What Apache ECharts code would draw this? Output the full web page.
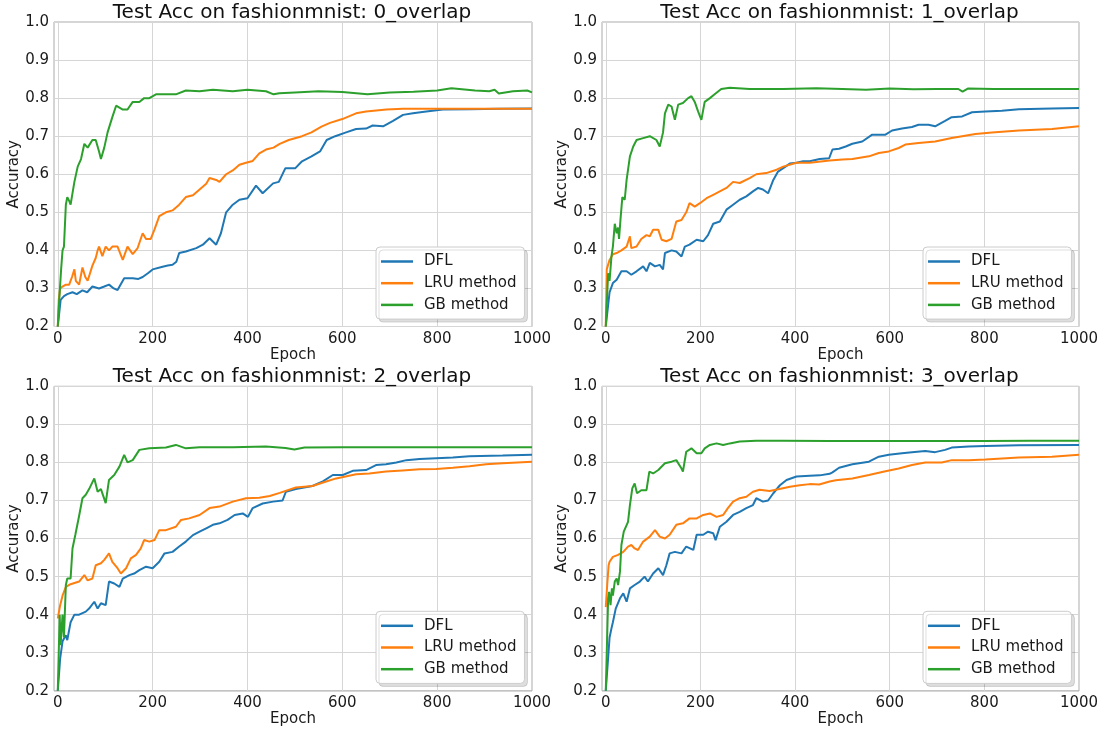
<!DOCTYPE html>
<html>
<head>
<meta charset="utf-8">
<script src="https://cdn.jsdelivr.net/npm/echarts@6/dist/echarts.min.js"></script>
<style>html,body{margin:0;padding:0;background:#fff;}#c{width:1104px;height:730px;}</style>
</head>
<body>
<div id="c"></div>
<script>
// ---- data (epoch, accuracy) ----
const seriesNames = ['DFL', 'LRU method', 'GB method'];
const panelTitles = ['Test Acc on fashionmnist: 0_overlap', 'Test Acc on fashionmnist: 1_overlap',
                     'Test Acc on fashionmnist: 2_overlap', 'Test Acc on fashionmnist: 3_overlap'];
const xTicks = [0, 200, 400, 600, 800, 1000];

const dfl0 = [[0,0.2],[1,0.2],[6,0.27],[13,0.28],[20,0.285],[31,0.29],[40,0.285],[52,0.295],[62,0.29],[73,0.305],[87,0.30],[98,0.305],[108,0.31],[118,0.30],[126,0.296],[140,0.327],[158,0.327],[170,0.325],[179,0.33],[190,0.34],[200,0.35],[221,0.357],[232,0.36],[242,0.362],[250,0.37],[256,0.393],[270,0.397],[292,0.406],[306,0.415],[320,0.432],[334,0.415],[344,0.445],[355,0.50],[369,0.52],[383,0.533],[400,0.537],[418,0.57],[432,0.55],[454,0.576],[466,0.58],[480,0.616],[501,0.616],[515,0.634],[535,0.647],[553,0.66],[567,0.69],[585,0.70],[608,0.71],[629,0.719],[650,0.72],[664,0.728],[686,0.726],[707,0.74],[728,0.756],[749,0.76],[777,0.765],[812,0.77],[869,0.771],[930,0.772],[1000,0.773]];
const lru0 = [[0,0.2],[2,0.27],[5,0.30],[10,0.305],[17,0.31],[24,0.31],[30,0.33],[35,0.35],[38,0.32],[45,0.31],[52,0.355],[58,0.33],[63,0.32],[73,0.36],[80,0.38],[84,0.40],[87,0.41],[94,0.385],[101,0.41],[108,0.40],[115,0.41],[126,0.41],[137,0.375],[147,0.41],[158,0.39],[168,0.405],[179,0.445],[186,0.43],[196,0.43],[204,0.455],[214,0.49],[228,0.50],[242,0.505],[256,0.52],[270,0.54],[285,0.545],[299,0.56],[313,0.575],[320,0.59],[334,0.585],[341,0.58],[355,0.60],[369,0.61],[383,0.625],[397,0.63],[411,0.635],[425,0.655],[439,0.665],[455,0.67],[468,0.68],[487,0.69],[515,0.70],[535,0.71],[556,0.725],[574,0.735],[600,0.745],[629,0.76],[650,0.765],[693,0.77],[728,0.772],[800,0.772],[900,0.772],[1000,0.772]];
const gb0 = [[0,0.2],[3,0.27],[7,0.35],[10,0.40],[13,0.41],[17,0.52],[20,0.54],[24,0.53],[27,0.52],[35,0.58],[42,0.62],[49,0.64],[56,0.68],[63,0.67],[73,0.69],[80,0.69],[87,0.66],[91,0.64],[98,0.67],[105,0.71],[115,0.75],[123,0.78],[137,0.77],[147,0.77],[158,0.79],[172,0.79],[182,0.80],[193,0.80],[207,0.81],[228,0.81],[249,0.81],[270,0.82],[299,0.818],[327,0.822],[369,0.818],[400,0.822],[439,0.818],[455,0.81],[467,0.813],[500,0.815],[550,0.818],[600,0.816],[653,0.81],[700,0.815],[750,0.817],[800,0.82],[830,0.826],[880,0.82],[910,0.818],[921,0.822],[930,0.812],[960,0.818],[990,0.82],[1000,0.815]];

const dfl1 = [[0,0.2],[1,0.2],[8,0.29],[15,0.314],[23,0.323],[33,0.345],[44,0.345],[54,0.336],[65,0.345],[79,0.358],[86,0.345],[93,0.367],[104,0.358],[114,0.362],[121,0.35],[125,0.393],[139,0.40],[149,0.397],[160,0.384],[167,0.41],[177,0.415],[192,0.428],[206,0.424],[216,0.44],[227,0.47],[241,0.476],[255,0.507],[269,0.52],[283,0.533],[297,0.542],[311,0.555],[322,0.564],[332,0.56],[343,0.55],[354,0.585],[364,0.607],[375,0.616],[389,0.628],[403,0.63],[417,0.634],[431,0.634],[452,0.64],[472,0.642],[479,0.665],[493,0.667],[507,0.673],[521,0.68],[542,0.686],[563,0.704],[591,0.704],[605,0.715],[626,0.72],[647,0.724],[661,0.73],[682,0.73],[696,0.726],[717,0.74],[731,0.75],[753,0.752],[774,0.763],[802,0.765],[837,0.767],[873,0.771],[943,0.773],[1000,0.774]];
const lru1 = [[0,0.2],[2,0.35],[8,0.375],[15,0.39],[23,0.393],[33,0.40],[44,0.41],[51,0.437],[54,0.406],[65,0.41],[75,0.43],[86,0.44],[93,0.437],[100,0.454],[111,0.454],[118,0.428],[128,0.424],[139,0.43],[149,0.476],[160,0.48],[170,0.50],[177,0.524],[188,0.515],[199,0.524],[213,0.537],[227,0.546],[241,0.555],[255,0.564],[269,0.58],[283,0.577],[304,0.59],[318,0.60],[339,0.603],[361,0.612],[375,0.62],[403,0.63],[431,0.63],[473,0.636],[500,0.639],[521,0.64],[556,0.647],[577,0.656],[598,0.66],[619,0.669],[633,0.678],[661,0.682],[696,0.686],[731,0.695],[753,0.70],[781,0.706],[816,0.71],[873,0.715],[943,0.719],[1000,0.726]];
const gb1 = [[0,0.2],[5,0.34],[8,0.32],[12,0.384],[15,0.41],[19,0.47],[23,0.445],[26,0.46],[28,0.43],[31,0.48],[35,0.54],[40,0.533],[44,0.585],[51,0.647],[58,0.673],[65,0.69],[79,0.695],[93,0.70],[107,0.69],[114,0.673],[121,0.71],[125,0.76],[132,0.783],[139,0.778],[146,0.743],[153,0.783],[163,0.787],[174,0.80],[181,0.805],[188,0.79],[195,0.765],[202,0.743],[209,0.79],[220,0.80],[230,0.81],[244,0.824],[262,0.827],[304,0.824],[375,0.824],[445,0.826],[500,0.824],[550,0.822],[600,0.825],[650,0.823],[700,0.824],[745,0.824],[754,0.817],[765,0.825],[820,0.824],[900,0.824],[1000,0.824]];

const dfl2 = [[0,0.2],[5,0.285],[10,0.33],[17,0.346],[20,0.333],[27,0.38],[35,0.40],[45,0.40],[59,0.408],[66,0.416],[77,0.434],[84,0.416],[91,0.43],[101,0.425],[108,0.487],[119,0.482],[130,0.473],[137,0.495],[151,0.504],[161,0.508],[172,0.517],[186,0.526],[200,0.522],[214,0.539],[225,0.561],[242,0.565],[256,0.579],[270,0.592],[285,0.609],[299,0.618],[313,0.627],[327,0.636],[341,0.64],[358,0.649],[373,0.662],[390,0.666],[401,0.657],[411,0.68],[432,0.692],[454,0.697],[474,0.70],[481,0.723],[502,0.73],[537,0.738],[559,0.75],[580,0.767],[601,0.767],[622,0.778],[650,0.78],[671,0.793],[692,0.795],[714,0.80],[735,0.806],[763,0.809],[798,0.811],[833,0.813],[868,0.816],[938,0.818],[1000,0.82]];
const lru2 = [[0,0.39],[5,0.425],[10,0.45],[17,0.473],[27,0.48],[45,0.487],[56,0.504],[63,0.49],[73,0.495],[80,0.53],[91,0.535],[98,0.544],[108,0.561],[115,0.539],[126,0.522],[133,0.508],[144,0.522],[154,0.548],[165,0.557],[175,0.574],[182,0.596],[193,0.592],[204,0.596],[214,0.622],[228,0.622],[249,0.631],[260,0.649],[277,0.653],[299,0.662],[320,0.68],[341,0.684],[369,0.697],[397,0.706],[425,0.707],[447,0.712],[468,0.72],[502,0.734],[537,0.738],[566,0.75],[587,0.758],[629,0.769],[657,0.771],[692,0.776],[727,0.779],[763,0.782],[798,0.783],[833,0.786],[868,0.79],[903,0.795],[938,0.798],[1000,0.802]];
const gb2 = [[0,0.2],[4,0.40],[6,0.32],[10,0.40],[13,0.34],[17,0.478],[20,0.495],[27,0.495],[31,0.574],[37,0.61],[45,0.66],[52,0.706],[59,0.715],[66,0.73],[77,0.758],[84,0.723],[91,0.73],[101,0.693],[108,0.754],[119,0.767],[130,0.789],[140,0.82],[147,0.80],[158,0.806],[172,0.833],[193,0.837],[228,0.839],[249,0.846],[270,0.837],[299,0.84],[369,0.84],[439,0.842],[480,0.838],[499,0.834],[520,0.839],[600,0.84],[700,0.84],[800,0.84],[900,0.84],[1000,0.84]];

const dfl3 = [[0,0.2],[5,0.288],[8,0.34],[12,0.364],[15,0.38],[21,0.416],[30,0.443],[37,0.456],[44,0.434],[51,0.469],[61,0.478],[72,0.487],[82,0.50],[89,0.487],[100,0.508],[111,0.522],[121,0.504],[128,0.53],[135,0.561],[146,0.565],[160,0.561],[170,0.579],[185,0.57],[192,0.61],[206,0.61],[216,0.618],[227,0.614],[232,0.596],[241,0.631],[255,0.644],[269,0.662],[283,0.67],[297,0.68],[311,0.688],[318,0.706],[332,0.697],[343,0.70],[354,0.719],[368,0.74],[382,0.754],[403,0.763],[431,0.765],[452,0.766],[473,0.77],[479,0.774],[493,0.786],[521,0.795],[556,0.802],[577,0.815],[598,0.82],[626,0.824],[647,0.827],[675,0.83],[696,0.827],[717,0.833],[731,0.839],[767,0.842],[802,0.843],[873,0.845],[1000,0.846]];
const lru3 = [[0,0.42],[3,0.478],[6,0.53],[8,0.539],[15,0.552],[26,0.557],[37,0.565],[47,0.579],[54,0.583],[61,0.574],[68,0.57],[79,0.592],[93,0.605],[104,0.622],[114,0.605],[125,0.60],[135,0.61],[149,0.636],[163,0.64],[177,0.653],[192,0.653],[206,0.662],[220,0.666],[234,0.657],[248,0.662],[258,0.68],[269,0.697],[283,0.706],[297,0.71],[311,0.723],[325,0.728],[346,0.725],[367,0.73],[389,0.736],[410,0.74],[431,0.743],[451,0.742],[473,0.75],[486,0.753],[521,0.758],[556,0.767],[591,0.777],[619,0.784],[647,0.793],[675,0.80],[710,0.80],[731,0.806],[767,0.806],[802,0.808],[873,0.813],[943,0.815],[1000,0.82]];
const gb3 = [[0,0.2],[5,0.443],[7,0.46],[10,0.425],[13,0.469],[15,0.45],[19,0.487],[23,0.495],[26,0.478],[30,0.513],[33,0.583],[38,0.618],[47,0.644],[51,0.688],[56,0.732],[61,0.745],[66,0.719],[75,0.727],[86,0.727],[92,0.776],[100,0.771],[111,0.78],[125,0.798],[139,0.802],[149,0.806],[160,0.784],[163,0.776],[170,0.828],[181,0.837],[192,0.824],[202,0.824],[209,0.837],[220,0.846],[234,0.85],[248,0.846],[262,0.85],[283,0.855],[318,0.857],[375,0.857],[473,0.856],[600,0.856],[700,0.856],[800,0.856],[900,0.857],[1000,0.857]];

const panelData = [[dfl0, lru0, gb0], [dfl1, lru1, gb1], [dfl2, lru2, gb2], [dfl3, lru3, gb3]];
const colors = ['#1f77b4', '#ff7f0e', '#2ca02c'];

// ---- layout ----
const FONT = 'DejaVu Sans';
const TXT = '#1a1a1a';
const grids = [
  {left: 54, top: 22, width: 478, height: 304.5},
  {left: 602, top: 22, width: 477, height: 304.5},
  {left: 54, top: 386.3, width: 478, height: 304.5},
  {left: 602, top: 386.3, width: 477, height: 304.5}
];

const option = {
  animation: false,
  backgroundColor: '#fff',
  textStyle: {fontFamily: FONT},
  title: grids.map((g, i) => ({
    text: panelTitles[i],
    left: g.left + g.width / 2 - 1,
    top: g.top - 19.5,
    textAlign: 'center',
    padding: 0,
    textStyle: {fontFamily: FONT, fontSize: 20, fontWeight: 'normal', color: '#111'}
  })),
  grid: grids.map(g => Object.assign({show: true, borderColor: '#aaaaaa', borderWidth: 1, backgroundColor: 'transparent'}, g)),
  legend: grids.map((g, i) => ({
    data: seriesNames,
    orient: 'vertical',
    left: g.left + g.width - 156,
    top: g.top + g.height - 79.5,
    icon: 'rect',
    itemWidth: 32,
    itemHeight: 2.5,
    itemGap: 5.7,
    padding: [6.5, 8, 6.2, 5],
    textStyle: {fontFamily: FONT, fontSize: 15, color: TXT, lineHeight: 16, padding: [0, 0, 0, 6]},
    backgroundColor: '#ffffff',
    borderColor: '#cccccc',
    borderWidth: 1,
    borderRadius: 4,
    shadowColor: 'rgba(0,0,0,0.13)',
    shadowOffsetX: 3,
    shadowOffsetY: 3,
    shadowBlur: 0
  })),
  xAxis: grids.map((g, i) => ({
    type: 'value',
    gridIndex: i,
    min: -8,
    max: 1000,
    name: 'Epoch',
    nameLocation: 'middle',
    nameGap: 18,
    nameTextStyle: {fontFamily: FONT, fontSize: 15, color: TXT},
    axisLine: {show: false},
    axisTick: {show: false, customValues: xTicks},
    axisLabel: {customValues: xTicks, fontFamily: FONT, fontSize: 15, color: TXT, margin: 5, formatter: v => String(v)},
    splitLine: {show: true, lineStyle: {color: '#d6d6d6', width: 1}}
  })),
  yAxis: grids.map((g, i) => ({
    type: 'value',
    gridIndex: i,
    min: 0.2,
    max: 1.0,
    interval: 0.1,
    name: 'Accuracy',
    nameLocation: 'middle',
    nameGap: 31,
    nameTextStyle: {fontFamily: FONT, fontSize: 15, color: TXT},
    axisLine: {show: false},
    axisTick: {show: false},
    axisLabel: {fontFamily: FONT, fontSize: 15, color: TXT, margin: 5, formatter: v => v.toFixed(1)},
    splitLine: {show: true, lineStyle: {color: '#d6d6d6', width: 1}}
  })),
  series: []
};

panelData.forEach((panel, p) => {
  panel.forEach((data, s) => {
    option.series.push({
      type: 'line',
      name: seriesNames[s],
      xAxisIndex: p,
      yAxisIndex: p,
      data: data,
      showSymbol: false,
      symbol: 'none',
      color: colors[s],
      lineStyle: {color: colors[s], width: 2},
      z: 2 + s
    });
  });
});

const chart = echarts.init(document.getElementById('c'), null, {renderer: 'canvas'});
chart.setOption(option);
</script>
</body>
</html>
